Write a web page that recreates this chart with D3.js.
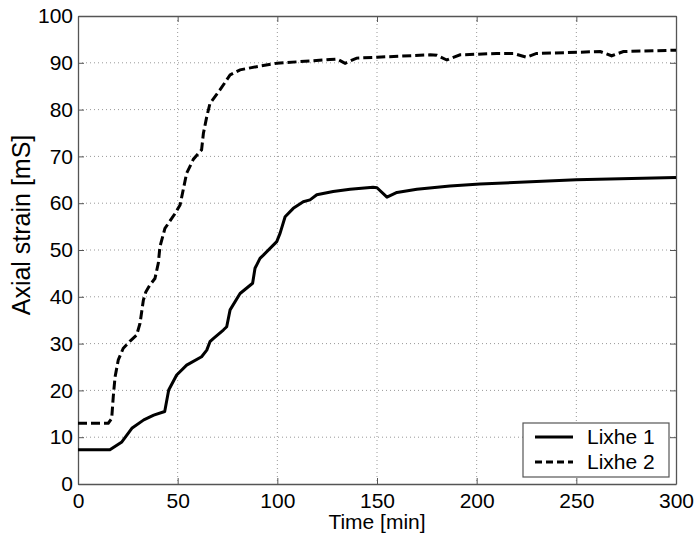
<!DOCTYPE html>
<html>
	<head>
		<meta charset="UTF-8">
		<title>Axial strain</title>
	</head>
	<script type="text/javascript" src="https://cdn.jsdelivr.net/npm/d3@7/dist/d3.min.js"></script>
	<style>
		body { margin: 0; background: #fff; }
		text { font-family: Arial, "Liberation Sans", sans-serif; fill: #000; }
		.grid line { stroke: #999; stroke-dasharray: 1,3; }
	</style>
	<body>
	<svg width="696" height="540"></svg>
	<script>
	// data
	var t1 = [0, 16, 22, 27, 33, 38, 43.5, 45.5, 49.5, 54.5, 62, 64.6, 66.2, 68, 72.9, 74.6, 76.3, 81.3, 87.6, 88.8, 91.3, 93, 99.7, 101.4, 103.9, 108, 113, 116.4, 119.8, 128, 136.5, 148, 150, 155, 160, 170, 186.6, 201.7, 250, 300];
	var v1 = [7.3, 7.3, 9.0, 11.9, 13.7, 14.7, 15.5, 20.1, 23.3, 25.4, 27.2, 28.6, 30.4, 31.1, 32.9, 33.6, 37.2, 40.7, 42.9, 46.1, 48.2, 48.9, 51.8, 53.6, 57.1, 58.9, 60.3, 60.7, 61.8, 62.5, 63.0, 63.4, 63.3, 61.3, 62.3, 63.0, 63.7, 64.1, 65.0, 65.5];
	var t2 = [0, 15.2, 16.9, 17.7, 18.6, 20.2, 22.7, 26, 29.4, 31.1, 32.8, 34, 36, 38.6, 40.3, 41.1, 43.6, 48.7, 51.2, 54.5, 57.9, 62, 62.9, 64.6, 66.2, 71.2, 76.3, 81.3, 91.3, 99.7, 109.7, 126.4, 130, 134, 139.8, 150, 176.6, 180, 185, 191.7, 210, 218.4, 225, 230, 262, 267.7, 273.6, 300];
	var v2 = [13.0, 13.0, 14.0, 18.7, 22.9, 26.5, 29.0, 30.5, 31.8, 34.3, 39.3, 41, 42.5, 43.9, 47.2, 50.7, 54.6, 57.8, 59.6, 66.4, 69.4, 71.4, 74.9, 78.5, 81.3, 84.2, 87.4, 88.5, 89.3, 89.9, 90.2, 90.7, 90.8, 89.9, 91.0, 91.2, 91.7, 91.6, 90.6, 91.7, 92.0, 92.0, 91.2, 92.0, 92.4, 91.5, 92.4, 92.7];
	var names = ["Lixhe 1", "Lixhe 2"];
	var xTicks = [0, 50, 100, 150, 200, 250, 300];
	var yTicks = [0, 10, 20, 30, 40, 50, 60, 70, 80, 90, 100];

	// plot box (note: "top" is reserved on window)
	var pl = 78, pr = 676, pt = 16, pb = 484;
	var svg = d3.select("svg");
	var x = d3.scaleLinear().domain([0, 300]).range([pl, pr]);
	var y = d3.scaleLinear().domain([0, 100]).range([pb, pt]);

	// grid
	var grid = svg.append("g").attr("class", "grid");
	grid.selectAll(".gx").data(xTicks.slice(1, -1)).enter().append("line")
		.attr("x1", d => x(d)).attr("x2", d => x(d)).attr("y1", pt).attr("y2", pb);
	grid.selectAll(".gy").data(yTicks.slice(1, -1)).enter().append("line")
		.attr("y1", d => y(d)).attr("y2", d => y(d)).attr("x1", pl).attr("x2", pr);

	// axes, ticks pointing inwards on all four sides
	var fs = "21px";
	var ax = svg.append("g").attr("transform", "translate(0," + pb + ")")
		.call(d3.axisBottom(x).tickValues(xTicks).tickSizeInner(-6).tickSizeOuter(0).tickPadding(11));
	var ay = svg.append("g").attr("transform", "translate(" + pl + ",0)")
		.call(d3.axisLeft(y).tickValues(yTicks).tickSizeInner(-6).tickSizeOuter(0).tickPadding(5));
	var axt = svg.append("g").attr("transform", "translate(0," + pt + ")")
		.call(d3.axisTop(x).tickValues(xTicks).tickSizeInner(-6).tickSizeOuter(0).tickFormat(""));
	var ayr = svg.append("g").attr("transform", "translate(" + pr + ",0)")
		.call(d3.axisRight(y).tickValues(yTicks).tickSizeInner(-6).tickSizeOuter(0).tickFormat(""));
	[ax, ay, axt, ayr].forEach(function(g) {
		g.selectAll("text").style("font-size", fs).attr("fill", "#000");
		g.selectAll("line").attr("stroke", "#555");
		g.select(".domain").attr("stroke", "#555").attr("stroke-width", 1.3);
	});
	ax.selectAll("text").attr("dy", "0.6em");

	// axis titles
	svg.append("text").attr("x", (pl + pr) / 2).attr("y", 529)
		.attr("text-anchor", "middle").style("font-size", fs).text("Time [min]");
	svg.append("text").attr("transform", "translate(30,225) rotate(-90)")
		.attr("text-anchor", "middle").style("font-size", "25px").text("Axial strain [mS]");

	// lines
	var line = d3.line().x(d => x(d[0])).y(d => y(d[1]));
	var s1 = t1.map((t, i) => [t, v1[i]]);
	var s2 = t2.map((t, i) => [t, v2[i]]);
	svg.append("path").datum(s1).attr("d", line)
		.attr("fill", "none").attr("stroke", "#000").attr("stroke-width", 3).attr("stroke-linejoin", "round");
	svg.append("path").datum(s2).attr("d", line)
		.attr("fill", "none").attr("stroke", "#000").attr("stroke-width", 3).attr("stroke-dasharray", "9,4");

	// legend
	var lg = svg.append("g");
	lg.append("rect").attr("x", 523).attr("y", 423).attr("width", 146).attr("height", 54)
		.attr("fill", "#fff").attr("stroke", "#555").attr("stroke-width", 1.2);
	names.forEach(function(n, i) {
		var ly = 437 + i * 25;
		lg.append("line").attr("x1", 535).attr("x2", 573).attr("y1", ly).attr("y2", ly)
			.attr("stroke", "#000").attr("stroke-width", 3)
			.attr("stroke-dasharray", i == 1 ? "7,4" : null);
		lg.append("text").attr("x", 587).attr("y", ly).attr("dy", "0.35em")
			.style("font-size", fs).text(n);
	});
	</script>
	</body>
</html>
